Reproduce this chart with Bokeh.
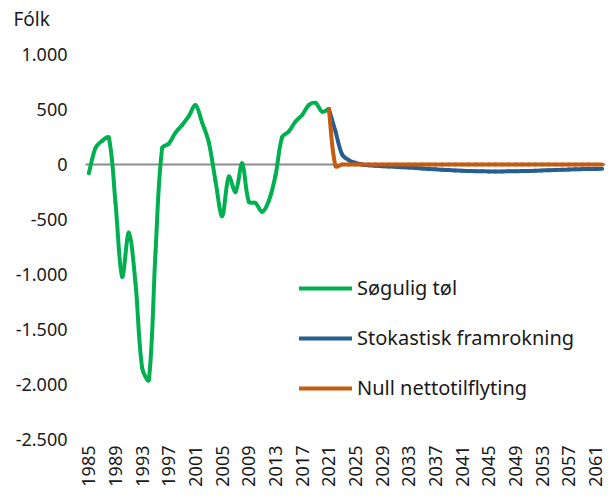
import math
from bokeh.plotting import figure
from bokeh.models import Legend, LegendItem, FixedTicker, Range1d, ColumnDataSource, Label
from bokeh.embed import file_html
from bokeh.resources import INLINE

# ---- data ----
years_hist = list(range(1985, 2022))
sogulig = [-80, 150, 215, 245, -350, -1020, -620, -1080, -1850, -1960,
           -800, 150, 190, 290, 360, 440, 540, 380, 200, -150,
           -470, -110, -250, 10, -340, -350, -430, -330, -100, 250,
           300, 390, 450, 540, 560, 480, 505]

years_proj = list(range(2021, 2063))
stokastisk = [505, 300, 90, 40, 15, 0, -8, -12, -15, -18,
              -21, -24, -28, -32, -36, -40, -44, -48, -51, -54,
              -57, -59, -61, -62, -63, -63, -63, -62, -61, -60,
              -58, -56, -54, -52, -50, -48, -46, -44, -42, -41,
              -40, -39]
null_netto = [505, -15, 0, 0, 0, 0, 0, 0, 0, 0,
              0, 0, 0, 0, 0, 0, 0, 0, 0, 0,
              0, 0, 0, 0, 0, 0, 0, 0, 0, 0,
              0, 0, 0, 0, 0, 0, 0, 0, 0, 0,
              0, 0]

x_ticks = list(range(1985, 2062, 4))
y_ticks = [1000, 500, 0, -500, -1000, -1500, -2000, -2500]
y_tick_labels = ["1.000", "500", "0", "-500", "-1.000", "-1.500", "-2.000", "-2.500"]

names = ["Søgulig tøl", "Stokastisk framrokning", "Null nettotilflyting"]
colors = ["#00B050", "#255E91", "#C55A11"]
unit_label = "Fólk"

FONT = "Noto Sans"
TXT = "#1a1a1a"

# ---- layout geometry ----
W, H = 610, 498
X0, X1 = 1984.5, 2062.5          # category axis extent
Y0, YTOP = -2500, 1000           # value axis extent
PLOT_L, PLOT_T, PLOT_B = 85, 54, 439   # pixel edges of the chart area
ML, MR, MT, MB = 5, 5, 5, 1
SX = (W - MR - PLOT_L) / (X1 - X0)     # px per year
SY = (PLOT_B - PLOT_T) / (YTOP - Y0)   # px per unit
XR0 = X0 - (PLOT_L - ML) / SX
YR1 = YTOP + (PLOT_T - MT) / SY
YR0 = Y0 - ((H - MB) - PLOT_B) / SY


def smooth_source(xs, ys):
    """Bezier control points of a smoothed line through the data points
    (Catmull-Rom tangents, arm lengths weighted by on-screen segment lengths)."""
    n = len(xs)

    def dist(i, j):
        return math.hypot((xs[j] - xs[i]) * SX, (ys[j] - ys[i]) * SY)

    out_c, in_c = [], []
    for i in range(n):
        ip = max(i - 1, 0)
        inx = min(i + 1, n - 1)
        cx, cy = xs[inx] - xs[ip], ys[inx] - ys[ip]
        d_in = dist(ip, i)
        d_out = dist(i, inx)
        tot = d_in + d_out if d_in + d_out > 0 else 1
        fo = d_out / tot / 3
        fi = d_in / tot / 3
        out_c.append((xs[i] + cx * fo, ys[i] + cy * fo))
        in_c.append((xs[i] - cx * fi, ys[i] - cy * fi))
    d = dict(x0=[], y0=[], x1=[], y1=[], cx0=[], cy0=[], cx1=[], cy1=[])
    for i in range(n - 1):
        d["x0"].append(xs[i]); d["y0"].append(ys[i])
        d["x1"].append(xs[i + 1]); d["y1"].append(ys[i + 1])
        d["cx0"].append(out_c[i][0]); d["cy0"].append(out_c[i][1])
        d["cx1"].append(in_c[i + 1][0]); d["cy1"].append(in_c[i + 1][1])
    return ColumnDataSource(d)


p = figure(width=W, height=H, output_backend="svg", toolbar_location=None,
           x_range=Range1d(XR0, X1), y_range=Range1d(YR0, YR1),
           min_border_left=ML, min_border_right=MR, min_border_top=MT,
           min_border_bottom=MB)
p.outline_line_color = None
p.grid.visible = False
p.background_fill_color = "white"
p.border_fill_color = "white"

# zero line across the chart area
p.segment(x0=[X0], y0=[0], x1=[X1], y1=[0], line_color="#8c8c8c", line_width=2)

renderers = []
for xs, ys, c in [(years_hist, sogulig, colors[0]),
                  (years_proj, stokastisk, colors[1]),
                  (years_proj, null_netto, colors[2])]:
    r = p.bezier(x0="x0", y0="y0", x1="x1", y1="y1", cx0="cx0", cy0="cy0",
                 cx1="cx1", cy1="cy1", source=smooth_source(xs, ys),
                 line_color=c, line_width=4, line_cap="round")
    renderers.append(r)

# axes (placed at the chart-area edges)
p.xaxis.fixed_location = Y0
p.xaxis.ticker = FixedTicker(ticks=x_ticks)
p.xaxis.major_label_orientation = math.pi / 2
p.xaxis.axis_line_color = None
p.xaxis.major_tick_line_color = None
p.xaxis.minor_tick_line_color = None
p.xaxis.major_tick_out = 0
p.xaxis.major_label_standoff = 6
p.xaxis.major_label_text_font = FONT
p.xaxis.major_label_text_font_size = "18px"
p.xaxis.major_label_text_color = TXT

p.yaxis.fixed_location = X0
p.yaxis.ticker = FixedTicker(ticks=y_ticks)
p.yaxis.major_label_overrides = {t: l for t, l in zip(y_ticks, y_tick_labels)}
p.yaxis.axis_line_color = None
p.yaxis.major_tick_line_color = None
p.yaxis.minor_tick_line_color = None
p.yaxis.major_tick_out = 0
p.yaxis.major_label_standoff = 18
p.yaxis.major_label_text_font = FONT
p.yaxis.major_label_text_font_size = "18px"
p.yaxis.major_label_text_color = TXT

unit = Label(x=X0, y=YTOP, x_offset=-72, y_offset=36, text=unit_label,
             text_font=FONT, text_font_size="19px", text_color=TXT,
             text_baseline="middle", text_align="left")
p.add_layout(unit)

legend = Legend(items=[LegendItem(label=names[i], renderers=[renderers[i]])
                       for i in range(3)],
                location=(294, 38 + (H - MB - PLOT_B)))
legend.border_line_color = None
legend.background_fill_alpha = 0
legend.padding = 0
legend.margin = 0
legend.glyph_width = 53
legend.glyph_height = 20
legend.label_height = 20
legend.label_standoff = 5
legend.spacing = 23
legend.label_text_font = FONT
legend.label_text_font_size = "20px"
legend.label_text_color = TXT
p.add_layout(legend)

open("out.html", "w").write(file_html(p, INLINE))
